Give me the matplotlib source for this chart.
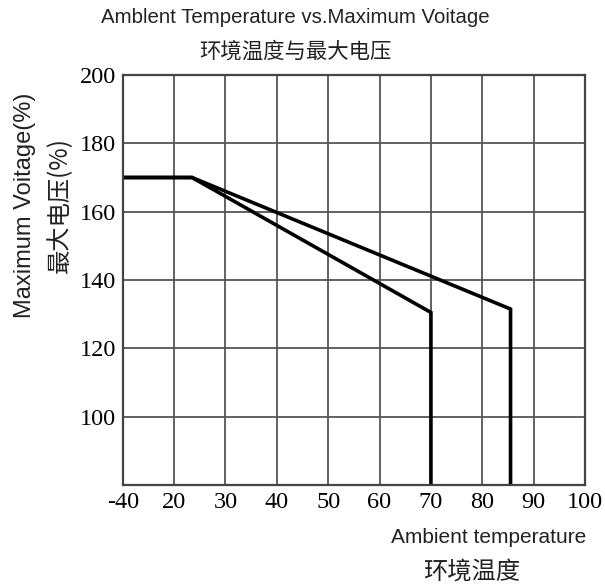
import matplotlib
matplotlib.use("Agg")
import matplotlib.pyplot as plt
import numpy as np

x_tick_labels = [-40, 20, 30, 40, 50, 60, 70, 80, 90, 100]
y_ticks = [100, 120, 140, 160, 180, 200]

temp_curve_a = [-40, 23.5, 70, 70]
volt_curve_a = [170, 170, 130.5, 80]
temp_curve_b = [-40, 23.5, 85.5, 85.5]
volt_curve_b = [170, 170, 131.5, 80]

tick_pos = np.arange(len(x_tick_labels))

def to_pos(t):
    return np.interp(t, x_tick_labels, tick_pos)

cjk = ['Noto Sans CJK SC', 'DejaVu Sans']
sans = ['Liberation Sans', 'Noto Sans CJK SC']
serif = ['Liberation Serif']

fig = plt.figure(figsize=(6.05, 5.87), dpi=100)
ax = fig.add_axes([0.2028, 0.1738, 0.967 - 0.2028, 0.8722 - 0.1738])

ax.set_xlim(0, len(x_tick_labels) - 1)
ax.set_ylim(80, 200)
ax.set_xticks(tick_pos)
ax.set_xticklabels([str(v) for v in x_tick_labels], family=serif, fontsize=17.5)
ax.set_yticks(y_ticks)
ax.set_yticklabels([str(v) for v in y_ticks], family=serif, fontsize=17.5)
ax.tick_params(length=0, pad=5)
ax.grid(True, color='#555555', linewidth=1.3)
ax.set_axisbelow(True)
for s in ax.spines.values():
    s.set_color('#444444')
    s.set_linewidth(1.6)

ax.plot(to_pos(temp_curve_a), volt_curve_a, color='black', linewidth=2.6, solid_joinstyle='miter')
ax.plot(to_pos(temp_curve_b), volt_curve_b, color='black', linewidth=2.6, solid_joinstyle='miter')

fig.text(0.488, 0.971, 'Amblent Temperature vs.Maximum Voitage', ha='center', va='center',
         family=sans, fontsize=14.7, color='#222222')
fig.text(0.488, 0.912, '环境温度与最大电压', ha='center', va='center',
         family=cjk, fontsize=15.4, color='#222222')

fig.text(0.042, 0.65, 'Maximum Voitage(%)', rotation=90, ha='center', va='center',
         family=sans, fontsize=17, color='#222222')
fig.text(0.099, 0.65, '最大电压(%)', rotation=90, ha='center', va='center',
         family=cjk, fontsize=17.5, color='#222222')

fig.text(0.808, 0.085, 'Ambient temperature', ha='center', va='center',
         family=sans, fontsize=15, color='#222222')
fig.text(0.78, 0.027, '环境温度', ha='center', va='center',
         family=cjk, fontsize=17.5, color='#222222')

fig.savefig('out.png', dpi=100)
